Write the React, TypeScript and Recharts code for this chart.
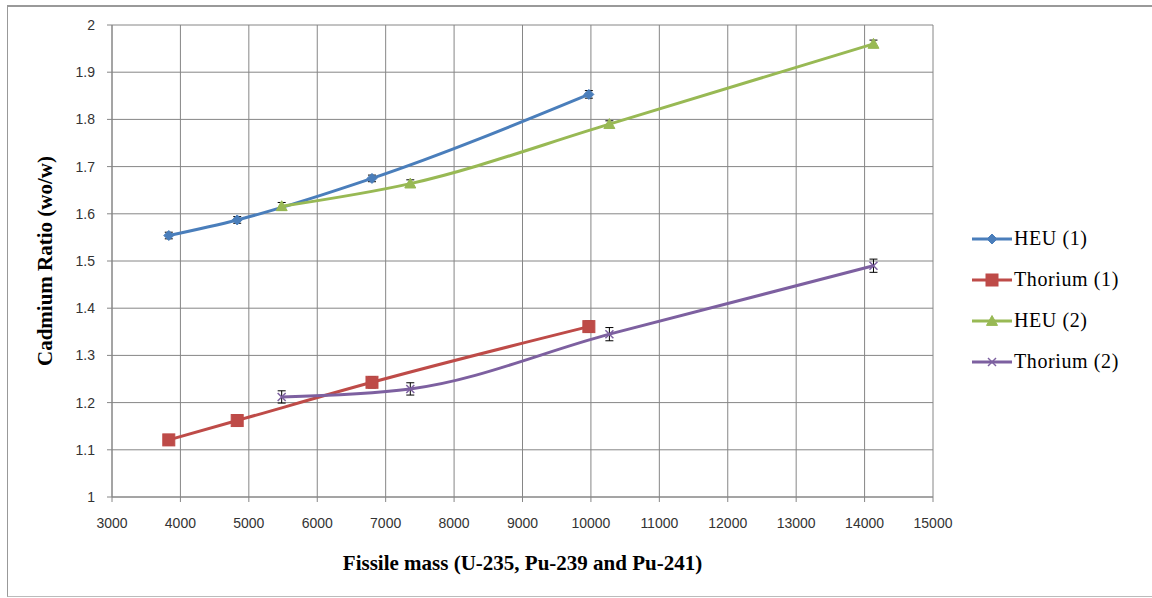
import React from 'react';
import { LineChart, Line, XAxis, YAxis, CartesianGrid, ErrorBar, Legend } from 'recharts';

// Fissile mass (x) and cadmium ratio (y) for each core loading
const heu1Mass = [3830, 4830, 6800, 9970];
const heu1Ratio = [1.554, 1.587, 1.675, 1.853];
const heu1Err = [0.007, 0.007, 0.007, 0.008];

const thorium1Mass = [3830, 4830, 6800, 9970];
const thorium1Ratio = [1.121, 1.162, 1.243, 1.361];
const thorium1Err = [0.011, 0.012, 0.012, 0.012];

const heu2Mass = [5480, 7360, 10270, 14130];
const heu2Ratio = [1.616, 1.664, 1.79, 1.96];
const heu2Err = [0.008, 0.008, 0.007, 0.008];

const thorium2Mass = [5480, 7360, 10270, 14130];
const thorium2Ratio = [1.212, 1.229, 1.345, 1.49];
const thorium2Err = [0.013, 0.013, 0.014, 0.014];

const xTicks = [3000, 4000, 5000, 6000, 7000, 8000, 9000, 10000, 11000, 12000, 13000, 14000, 15000];
const yTicks = [1, 1.1, 1.2, 1.3, 1.4, 1.5, 1.6, 1.7, 1.8, 1.9, 2];

const seriesNames = ['HEU (1)', 'Thorium (1)', 'HEU (2)', 'Thorium (2)'];
const seriesColors = ['#4A7EBB', '#BE4B48', '#98B954', '#7D60A0'];
const seriesShapes = ['diamond', 'square', 'triangle', 'cross'];

const toRows = (xs: number[], ys: number[], es: number[]) =>
  xs.map((x, i) => ({ mass: x, ratio: ys[i], err: es[i] }));

const series = [
  toRows(heu1Mass, heu1Ratio, heu1Err),
  toRows(thorium1Mass, thorium1Ratio, thorium1Err),
  toRows(heu2Mass, heu2Ratio, heu2Err),
  toRows(thorium2Mass, thorium2Ratio, thorium2Err),
];

function Marker({ shape, cx, cy, color }: { shape: string; cx: number; cy: number; color: string }) {
  if (shape === 'diamond') {
    const r = 5;
    return <path d={`M${cx},${cy - r}L${cx + r},${cy}L${cx},${cy + r}L${cx - r},${cy}Z`} fill={color} stroke={color} strokeWidth={1} />;
  }
  if (shape === 'square') {
    const r = 6;
    return <rect x={cx - r} y={cy - r} width={2 * r} height={2 * r} fill={color} stroke={color} strokeWidth={1} />;
  }
  if (shape === 'triangle') {
    const r = 5.5;
    return <path d={`M${cx},${cy - r}L${cx + r},${cy + r * 0.8}L${cx - r},${cy + r * 0.8}Z`} fill={color} stroke={color} strokeWidth={1} />;
  }
  const r = 4;
  return (
    <g stroke={color} strokeWidth={1.5}>
      <line x1={cx - r} y1={cy - r} x2={cx + r} y2={cy + r} />
      <line x1={cx - r} y1={cy + r} x2={cx + r} y2={cy - r} />
    </g>
  );
}

const makeDot = (idx: number) => (props: any) => {
  const { cx, cy, index } = props;
  if (cx == null || cy == null) return <g key={`d${idx}-${index}`} />;
  return (
    <g key={`d${idx}-${index}`}>
      <Marker shape={seriesShapes[idx]} cx={cx} cy={cy} color={seriesColors[idx]} />
    </g>
  );
};

const renderLegend = () => (
  <div style={{ fontFamily: '"Liberation Serif", serif', fontSize: 20, letterSpacing: 0.6, color: '#000' }}>
    {seriesNames.map((name, i) => (
      <div key={name} style={{ display: 'flex', alignItems: 'center', height: 41, whiteSpace: 'nowrap' }}>
        <svg width={40} height={16} style={{ display: 'block' }}>
          <line x1={0} y1={8} x2={40} y2={8} stroke={seriesColors[i]} strokeWidth={3} />
          <Marker shape={seriesShapes[i]} cx={20} cy={8} color={seriesColors[i]} />
        </svg>
        <span style={{ marginLeft: 2 }}>{name}</span>
      </div>
    ))}
  </div>
);

const tickStyle = { fontFamily: '"Liberation Sans", sans-serif', fontSize: 14, fill: '#333' };
const titleStyle = { fontFamily: '"Liberation Serif", serif', fontSize: 21, fontWeight: 'bold', fill: '#000' };

export default function App() {
  return (
    <div style={{ position: 'fixed', left: 0, top: 0, width: 1152, height: 598, overflow: 'hidden', background: '#fff' }}>
      <div style={{ position: 'absolute', left: 0, top: 0 }}>
        <LineChart width={1152} height={598} margin={{ top: 25, right: 49, bottom: 21, left: 0 }}>
          <CartesianGrid stroke="#868686" strokeWidth={1} />
          <XAxis
            type="number"
            dataKey="mass"
            domain={[3000, 15000]}
            ticks={xTicks}
            allowDataOverflow
            height={80}
            tick={tickStyle}
            tickSize={5}
            tickMargin={16}
            axisLine={{ stroke: '#868686' }}
            tickLine={{ stroke: '#868686' }}
            label={{ value: 'Fissile mass (U-235, Pu-239 and Pu-241)', position: 'insideBottom', offset: 7, style: titleStyle }}
          />
          <YAxis
            type="number"
            domain={[1, 2]}
            ticks={yTicks}
            allowDataOverflow
            width={112}
            tick={tickStyle}
            tickSize={5}
            tickMargin={12}
            axisLine={{ stroke: '#868686' }}
            tickLine={{ stroke: '#868686' }}
            label={{ value: 'Cadmium Ratio (wo/w)', angle: -90, position: 'insideLeft', offset: 45, style: { ...titleStyle, textAnchor: 'middle' } }}
          />
          <Legend
            layout="vertical"
            align="right"
            verticalAlign="top"
            content={renderLegend}
            wrapperStyle={{ left: 972, top: 218, width: 170, right: 'auto' }}
          />
          {series.map((rows, i) => (
            <Line
              key={seriesNames[i]}
              name={seriesNames[i]}
              data={rows}
              dataKey="ratio"
              type="monotone"
              stroke={seriesColors[i]}
              strokeWidth={3}
              dot={makeDot(i)}
              activeDot={false}
              isAnimationActive={false}
            >
              <ErrorBar dataKey="err" direction="y" width={4} stroke="#000" strokeWidth={1} />
            </Line>
          ))}
        </LineChart>
      </div>
      {/* chart frame, open on the right edge */}
      <div
        style={{
          position: 'absolute',
          left: 7,
          top: 5,
          width: 1200,
          height: 589,
          borderTop: '2px solid #999',
          borderLeft: '1px solid #999',
          borderBottom: '1px solid #bbb',
          pointerEvents: 'none',
        }}
      />
    </div>
  );
}
